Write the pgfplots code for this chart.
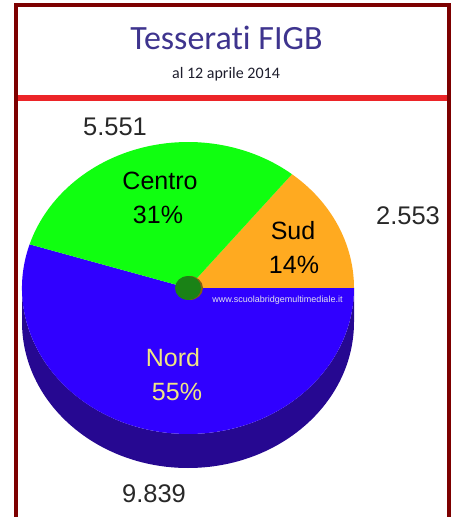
\documentclass[border=0pt]{standalone}
\usepackage{pgfplots}
\usepackage{pgfplotstable}
\pgfplotsset{compat=1.18}
\usepackage{fontspec}
\setmainfont{Liberation Sans}
\newfontfamily\carlito[Ligatures={NoCommon,NoContextual}]{Carlito}

\definecolor{framecol}{RGB}{125,0,0}
\definecolor{redline}{RGB}{236,36,40}
\definecolor{titlecol}{RGB}{62,52,142}
\definecolor{subcol}{RGB}{30,30,45}
\definecolor{sudcol}{RGB}{255,170,32}
\definecolor{centrocol}{RGB}{16,255,16}
\definecolor{nordcol}{RGB}{48,0,255}
\definecolor{sidecol}{RGB}{38,8,145}
\definecolor{dotcol}{RGB}{26,130,22}
\definecolor{dotshadow}{RGB}{130,95,20}
\definecolor{numcol}{RGB}{40,40,40}
\definecolor{nordtext}{RGB}{240,230,130}
\definecolor{webcol}{RGB}{225,225,240}

\pgfplotstableread{
region value
Sud 2553
Centro 5551
Nord 9839
}\piedata

\begin{document}
\begin{tikzpicture}
\pgfplotstablegetelem{0}{value}\of\piedata \let\vSud\pgfplotsretval
\pgfplotstablegetelem{1}{value}\of\piedata \let\vCentro\pgfplotsretval
\pgfplotstablegetelem{2}{value}\of\piedata \let\vNord\pgfplotsretval
\pgfmathsetmacro\kSud{\vSud/1000}
\pgfmathsetmacro\kCentro{\vCentro/1000}
\pgfmathsetmacro\kNord{\vNord/1000}
\pgfmathsetmacro\total{\kSud+\kCentro+\kNord}
\pgfmathsetmacro\aA{360*\kSud/\total}
\pgfmathsetmacro\aB{\aA+360*\kCentro/\total}
\pgfmathsetmacro\xA{188+166*cos(\aA)}
\pgfmathsetmacro\yA{229+146*sin(\aA)}
\pgfmathsetmacro\xB{188+166*cos(\aB)}
\pgfmathsetmacro\yB{229+146*sin(\aB)}
\pgfmathtruncatemacro\pSud{round(100*\kSud/\total)}
\pgfmathtruncatemacro\pCentro{round(100*\kCentro/\total)}
\pgfmathtruncatemacro\pNord{round(100*\kNord/\total)}
\useasboundingbox (0,0) rectangle (452pt,517pt);
\begin{axis}[x=1pt,y=1pt,xmin=0,xmax=452,ymin=0,ymax=517,hide axis,clip=false,
  anchor=south west, at={(0,0)}]
% frame
\draw[framecol, line width=3.8pt, line join=miter] (axis cs:15.7,0) -- (axis cs:15.7,512) -- (axis cs:448.7,512) -- (axis cs:448.7,0);
% title
\node[anchor=base, text=titlecol, font=\carlito\fontsize{34}{40}\selectfont] at (axis cs:226.5,467) {Tesserati FIGB};
\node[anchor=base, text=subcol, font=\carlito\fontsize{16}{19}\selectfont] at (axis cs:226,438.7) {al 12 aprile 2014};
\draw[redline, line width=6pt] (axis cs:17.6,418.5) -- (axis cs:446.8,418.5);
% pie side
\fill[sidecol] (axis cs:22,229) -- (axis cs:22,195) arc[start angle=180,end angle=360,x radius=166pt,y radius=146pt] -- (axis cs:354,229) arc[start angle=0,end angle=-180,x radius=166pt,y radius=146pt] -- cycle;
% sectors
\fill[nordcol] (axis cs:188,229) -- (axis cs:\xB,\yB) arc[start angle=\aB,end angle=360,x radius=166pt,y radius=146pt] -- cycle;
\fill[sudcol] (axis cs:188,229) -- (axis cs:354,229) arc[start angle=0,end angle=\aA,x radius=166pt,y radius=146pt] -- cycle;
\fill[centrocol] (axis cs:188,229) -- (axis cs:\xA,\yA) arc[start angle=\aA,end angle=\aB,x radius=166pt,y radius=146pt] -- cycle;
% centre dot
\fill[dotshadow] (axis cs:189.5,229) ellipse[x radius=13.5pt,y radius=12pt];
\fill[dotcol] (axis cs:188,229) ellipse[x radius=13pt,y radius=12pt];
% website
\node[anchor=base, text=webcol, font=\fontsize{9}{10}\selectfont] at (axis cs:277.5,214.3) {www.scuolabridgemultimediale.it};
% sector labels
\node[anchor=base, text=black, font=\fontsize{25}{30}\selectfont] at (axis cs:160,327.7) {Centro};
\node[anchor=base, text=black, font=\fontsize{25}{30}\selectfont] at (axis cs:158,293) {\pCentro\%};
\node[anchor=base, text=black, font=\fontsize{25}{30}\selectfont] at (axis cs:293,277.7) {Sud};
\node[anchor=base, text=black, font=\fontsize{25}{30}\selectfont] at (axis cs:294,243.7) {\pSud\%};
\node[anchor=base, text=nordtext, font=\fontsize{25}{30}\selectfont] at (axis cs:173,150.3) {Nord};
\node[anchor=base, text=nordtext, font=\fontsize{25}{30}\selectfont] at (axis cs:177,116.3) {\pNord\%};
% value labels
\node[anchor=base, text=numcol, font=\fontsize{25.5}{30}\selectfont] at (axis cs:115,381) {\pgfmathprintnumber[assume math mode=true,1000 sep={.}]{\vCentro}};
\node[anchor=base, text=numcol, font=\fontsize{25.5}{30}\selectfont] at (axis cs:408,292) {\pgfmathprintnumber[assume math mode=true,1000 sep={.}]{\vSud}};
\node[anchor=base, text=numcol, font=\fontsize{25.5}{30}\selectfont] at (axis cs:154,14.3) {\pgfmathprintnumber[assume math mode=true,1000 sep={.}]{\vNord}};
\end{axis}
\end{tikzpicture}
\end{document}
